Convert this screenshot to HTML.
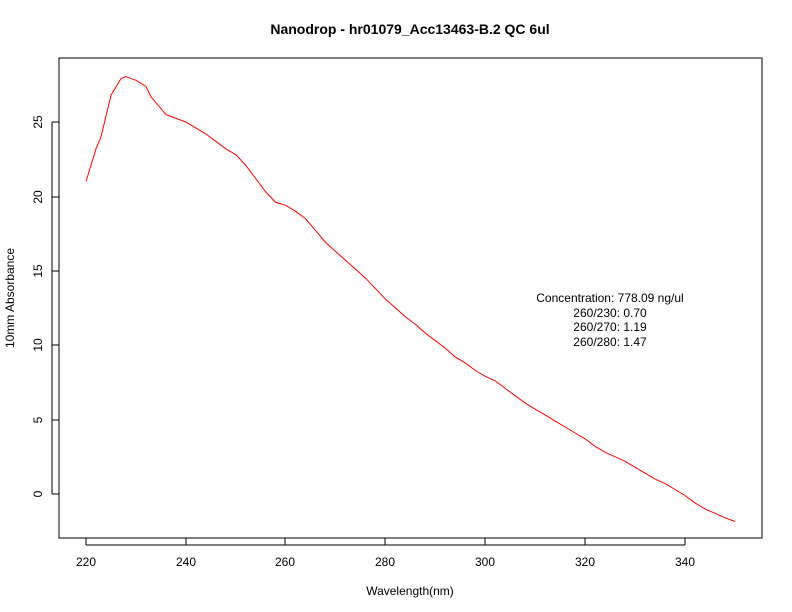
<!DOCTYPE html>
<html><head><meta charset="utf-8"><style>
body{margin:0;background:#fff;}
svg{display:block;font-family:"Liberation Sans",sans-serif;}
</style></head><body>
<svg id="s" width="792" height="612" xmlns="http://www.w3.org/2000/svg">
<rect width="792" height="612" fill="#fff"/>
<text x="410" y="34" text-anchor="middle" font-size="14" font-weight="bold">Nanodrop - hr01079_Acc13463-B.2 QC 6ul</text>
<rect x="59" y="58" width="703" height="480" fill="none" stroke="#000" stroke-width="1"/>
<g stroke="#000" fill="none">
<path d="M86 538V545M186 538V545M285 538V545M385 538V545M485 538V545M585 538V545M685 538V545M86 545H685"/>
<path d="M59 494H52M59 420H52M59 345H52M59 271H52M59 197H52M59 122H52M52 122V494"/>
</g>
<g font-size="12" text-anchor="middle">
<text x="86" y="566">220</text><text x="186" y="566">240</text><text x="285" y="566">260</text><text x="385" y="566">280</text><text x="485" y="566">300</text><text x="585" y="566">320</text><text x="685" y="566">340</text>
<text x="410" y="595">Wavelength(nm)</text>
</g>
<g font-size="12" text-anchor="middle">
<text transform="translate(42,494) rotate(-90)">0</text>
<text transform="translate(42,420) rotate(-90)">5</text>
<text transform="translate(42,345) rotate(-90)">10</text>
<text transform="translate(42,271) rotate(-90)">15</text>
<text transform="translate(42,197) rotate(-90)">20</text>
<text transform="translate(42,122) rotate(-90)">25</text>
<text transform="translate(14,298) rotate(-90)">10mm Absorbance</text>
</g>
<g font-size="12" text-anchor="middle">
<text x="610" y="302">Concentration: 778.09 ng/ul</text>
<text x="610" y="317">260/230: 0.70</text>
<text x="610" y="331">260/270: 1.19</text>
<text x="610" y="346">260/280: 1.47</text>
</g>
<polyline id="c" fill="none" stroke="#ff0000" stroke-width="1"/>
</svg>
<script>
var d=[[220,21],[222,23.2],[223,24],[225,26.8],[227,27.9],[228,28.05],[230,27.8],[232,27.4],[233,26.7],[235,25.9],[236,25.5],[240,25.0],[244,24.2],[246,23.7],[248,23.2],[250,22.8],[252,22.1],[254,21.2],[256,20.3],[258,19.6],[260,19.4],[262,19.0],[264,18.5],[266,17.7],[268,16.9],[270,16.3],[272,15.7],[274,15.1],[276,14.5],[278,13.8],[280,13.1],[282,12.5],[284,11.9],[286,11.4],[288,10.8],[290,10.3],[292,9.8],[294,9.2],[296,8.8],[298,8.3],[300,7.9],[302,7.6],[304,7.1],[306,6.6],[308,6.1],[310,5.7],[312,5.3],[314,4.9],[316,4.5],[318,4.1],[320,3.7],[322,3.2],[324,2.8],[326,2.5],[328,2.2],[330,1.8],[332,1.4],[334,1.0],[336,0.7],[338,0.3],[340,-0.1],[342,-0.6],[344,-1.0],[346,-1.3],[348,-1.6],[350,-1.85]];
var p=d.map(function(a){return (86+(a[0]-220)*4.992).toFixed(1)+","+(494-a[1]*14.88).toFixed(1)}).join(" ");
document.getElementById("c").setAttribute("points",p);
</script>
</body></html>
